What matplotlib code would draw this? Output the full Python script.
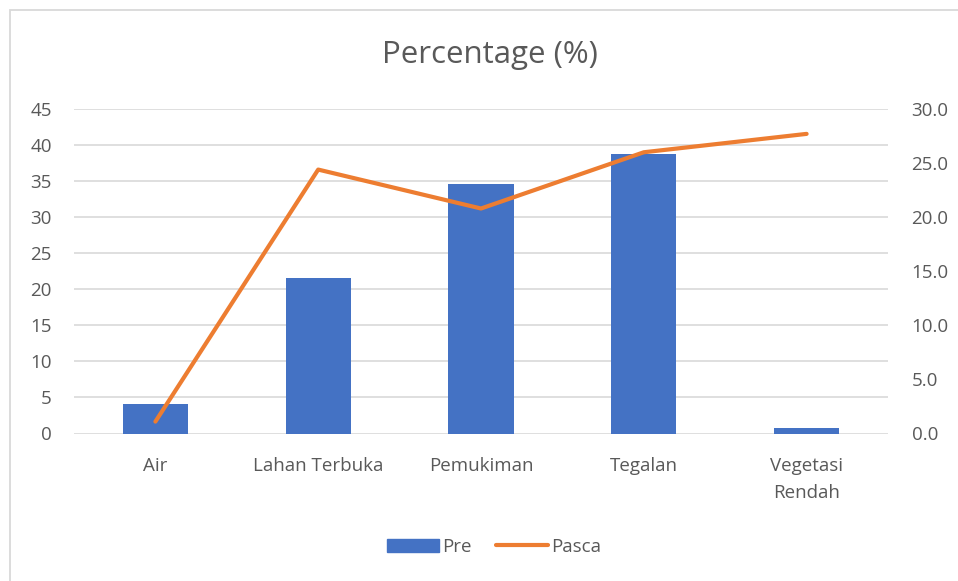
import matplotlib.pyplot as plt
from matplotlib.patches import Rectangle
from matplotlib.lines import Line2D
import numpy as np

categories = ["Air", "Lahan Terbuka", "Pemukiman", "Tegalan", "Vegetasi\nRendah"]
pre = [4.1, 21.5, 34.6, 38.8, 0.8]
pasca = [1.1, 24.4, 20.8, 26.0, 27.7]
left_ticks = [0, 5, 10, 15, 20, 25, 30, 35, 40, 45]
right_ticks = [0, 5, 10, 15, 20, 25, 30]

text_col = "#595959"
grid_col = "#d9d9d9"
plt.rcParams['font.family'] = ['Open Sans', 'DejaVu Sans']

fig = plt.figure(figsize=(9.58, 5.81), dpi=100)
ax = fig.add_axes([74 / 958, 1 - 433.5 / 581, (888 - 74) / 958, (433.5 - 109) / 581])

# chart frame, runs off the right and bottom edges like the screenshot
top = 1 - 10.5 / 581
fig.patches.append(Rectangle((9.5 / 958, -0.05), 1.0, top + 0.05, transform=fig.transFigure,
                             fill=False, edgecolor="#d9d9d9", linewidth=1.3))

x = np.arange(len(categories))
ax.bar(x, pre, width=0.4, color="#4472C4", zorder=2)
ax.set_xlim(-0.5, len(categories) - 0.5)
ax.set_ylim(0, 45)
ax.set_yticks(left_ticks)
ax.set_xticks(x)
ax.set_xticklabels(categories, fontsize=13.5, color=text_col, linespacing=1.6)
ax.tick_params(axis="both", length=0, labelsize=13.5, labelcolor=text_col)
ax.tick_params(axis="x", pad=17)
ax.tick_params(axis="y", pad=16)
ax.yaxis.grid(True, color=grid_col, linewidth=1.2, zorder=0)
ax.set_axisbelow(True)
for s in ax.spines.values():
    s.set_visible(False)

ax2 = ax.twinx()
ax2.plot(x, pasca, color="#ED7D31", linewidth=3, solid_capstyle="round", solid_joinstyle="round", zorder=3)
ax2.set_ylim(0, 30)
ax2.set_yticks(right_ticks)
ax2.set_yticklabels([f"{v:.1f}" for v in right_ticks])
ax2.tick_params(axis="y", length=0, labelsize=13.5, labelcolor=text_col, pad=17)
for s in ax2.spines.values():
    s.set_visible(False)

fig.text(490 / 958, 1 - 55 / 581, "Percentage (%)", ha="center", va="center", fontsize=22.5, color=text_col)

handles = [Rectangle((0, 0), 1, 1, color="#4472C4"),
           Line2D([0], [0], color="#ED7D31", linewidth=3, solid_capstyle="round")]
fig.legend(handles, ["Pre", "Pasca"], loc="center", bbox_to_anchor=(494 / 958, 1 - 547 / 581),
           ncol=2, frameon=False, fontsize=13.5, labelcolor=text_col, handlelength=2.8,
           handletextpad=0.15, columnspacing=1.3)

fig.savefig("out.png", dpi=100)
